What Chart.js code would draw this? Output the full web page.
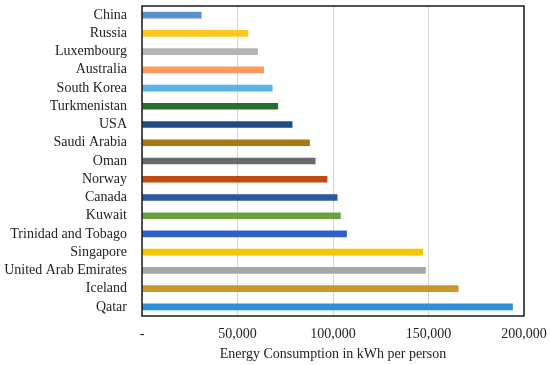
<!DOCTYPE html>
<html>
<head>
<meta charset="utf-8">
<script src="https://cdn.jsdelivr.net/npm/chart.js@4/dist/chart.umd.min.js"></script>
<style>
  html, body { margin: 0; padding: 0; background: #fff; }
  #wrap { width: 550px; height: 365px; position: relative; }
</style>
</head>
<body>
<div id="wrap"><canvas id="energyChart"></canvas></div>
<script>
// Countries, top to bottom as drawn
const countries = [
    'China', 'Russia', 'Luxembourg', 'Australia', 'South Korea', 'Turkmenistan',
    'USA', 'Saudi Arabia', 'Oman', 'Norway', 'Canada', 'Kuwait',
    'Trinidad and Tobago', 'Singapore', 'United Arab Emirates', 'Iceland', 'Qatar'
];
// kWh per person
const consumption = [
    31000, 55500, 60500, 63700, 68200, 71100,
    78600, 87700, 90700, 96900, 102200, 103900,
    107100, 147000, 148400, 165600, 194000
];
const barColors = [
    '#5a8fd4', '#ffc820', '#b4b4b4', '#ff9a5e', '#5cb2e6', '#2a6e2e',
    '#1f4a86', '#a57812', '#6a6a6a', '#c04a12', '#2b5a98', '#6aa03e',
    '#2e62c8', '#f6c400', '#a6a6a6', '#c9982c', '#2a90da'
];
const xTicks = [0, 50000, 100000, 150000, 200000];

// frame round the plot area
const frame = {
    id: 'frame',
    afterDraw(chart) {
        const a = chart.chartArea, ctx = chart.ctx;
        ctx.save();
        ctx.strokeStyle = '#1a1a1a';
        ctx.lineWidth = 1.5;
        ctx.strokeRect(a.left, a.top, a.right - a.left, a.bottom - a.top);
        ctx.restore();
    }
};

const ctx = document.getElementById('energyChart').getContext('2d');
new Chart(ctx, {
    type: 'bar',
    data: {
        labels: countries,
        datasets: [{
            data: consumption,
            backgroundColor: barColors,
            barThickness: 6
        }]
    },
    options: {
        indexAxis: 'y',
        responsive: true,
        maintainAspectRatio: false,
        animation: false,
        layout: { padding: { top: 6, right: 0, left: 0, bottom: 0 } },
        plugins: {
            legend: { display: false },
            tooltip: { enabled: false }
        },
        scales: {
            x: {
                min: 0,
                max: 200000,
                afterBuildTicks: axis => { axis.ticks = xTicks.map(v => ({ value: v })); },
                afterFit: s => { s.height = 49; s.paddingLeft = 0; s.paddingRight = 26; },
                grid: { color: '#d4d4d4', drawTicks: false },
                border: { display: false },
                ticks: {
                    color: '#222',
                    padding: 10,
                    maxRotation: 0,
                    font: { family: 'Liberation Serif', size: 14 },
                    callback: v => v === 0 ? '-' : v.toLocaleString('en-US')
                },
                title: {
                    display: true,
                    text: 'Energy Consumption in kWh per person',
                    color: '#222',
                    padding: { top: 2, bottom: 2 },
                    font: { family: 'Liberation Serif', size: 14 }
                }
            },
            y: {
                afterFit: s => { s.width = 142; s.paddingTop = 0; s.paddingBottom = 0; },
                grid: { display: false, drawTicks: false },
                border: { display: false },
                ticks: {
                    color: '#222',
                    padding: 15,
                    autoSkip: false,
                    font: { family: 'Liberation Serif', size: 14 }
                }
            }
        }
    },
    plugins: [frame]
});
</script>
</body>
</html>
